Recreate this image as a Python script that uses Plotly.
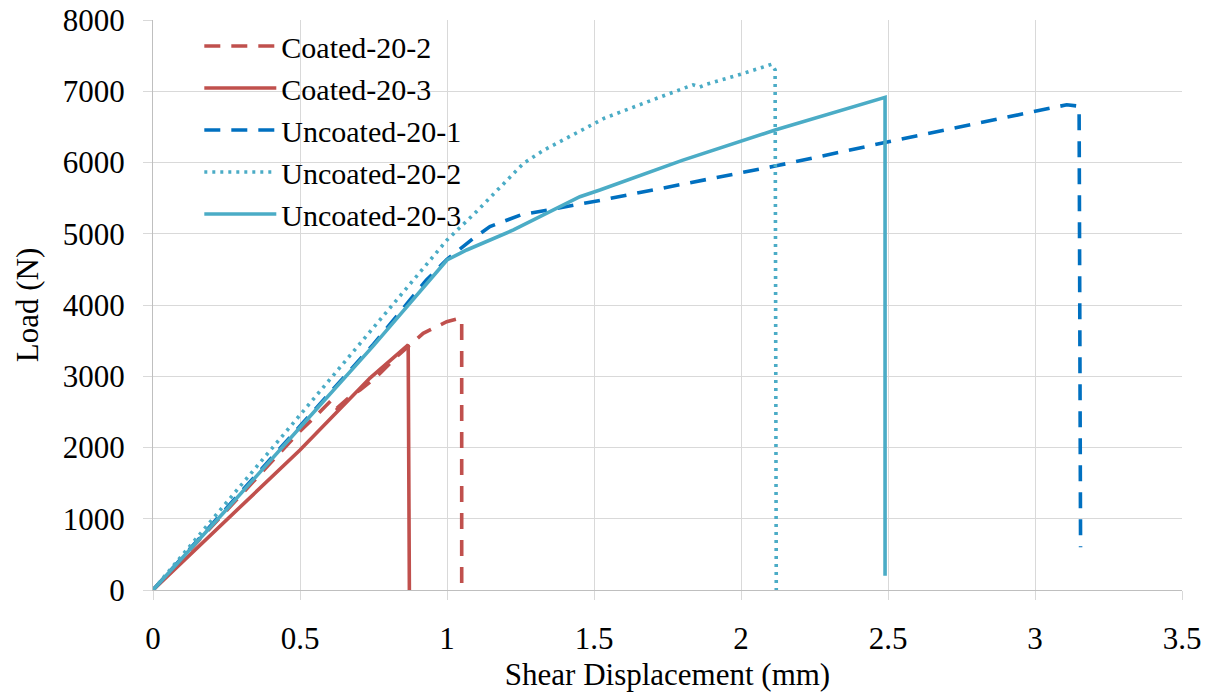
import plotly.graph_objects as go

# ---- data ----
c202_x = [0, 0.25, 0.5, 0.557, 0.608, 0.625, 0.67, 0.704, 0.761, 0.829, 0.919, 0.999, 1.044, 1.05, 1.05]
c202_y = [0, 1120, 2230, 2456, 2667, 2550, 2713, 2807, 2994, 3275, 3602, 3766, 3813, 3800, 0]

c203_x = [0, 0.25, 0.5, 0.738, 0.868, 0.872]
c203_y = [0, 980, 1965, 2975, 3439, 0]

u201_x = [0, 0.25, 0.5, 0.75, 0.93, 1.0, 1.09, 1.146, 1.25, 1.34, 1.44, 1.52, 2.116, 2.53, 3.108, 3.15, 3.155]
u201_y = [0, 1150, 2300, 3450, 4350, 4640, 4936, 5100, 5263, 5333, 5403, 5468, 5950, 6316, 6810, 6790, 600]

u202_x = [0, 0.25, 0.5, 0.84, 1.0, 1.10, 1.26, 1.33, 1.537, 1.7, 1.837, 1.86, 1.884, 2.0, 2.104, 2.116, 2.12]
u202_y = [0, 1230, 2460, 4117, 4912, 5310, 5988, 6175, 6625, 6880, 7090, 7060, 7100, 7240, 7378, 7300, 0]

u203_x = [0, 0.25, 0.5, 0.75, 1.0, 1.067, 1.226, 1.452, 1.52, 1.8, 2.116, 2.3, 2.49, 2.49]
u203_y = [0, 1130, 2280, 3430, 4632, 4772, 5053, 5520, 5614, 6030, 6456, 6680, 6915, 200]

names = ["Coated-20-2", "Coated-20-3", "Uncoated-20-1", "Uncoated-20-2", "Uncoated-20-3"]

RED = "#C0504D"
BLUE = "#0070C0"
LBLUE = "#4BACC6"
FONT = "Liberation Serif, Times New Roman, serif"
LW = 3.6

series = [
    (c202_x, c202_y, RED, "16px,11px"),
    (c203_x, c203_y, RED, "solid"),
    (u201_x, u201_y, BLUE, "16px,11px"),
    (u202_x, u202_y, LBLUE, "3px,5px"),
    (u203_x, u203_y, LBLUE, "solid"),
]

fig = go.Figure()
for (xs, ys, col, dash), nm in zip(series, names):
    fig.add_trace(go.Scatter(x=xs, y=ys, mode="lines", name=nm,
                             line=dict(color=col, width=LW, dash=dash)))

GRID = "#d9d9d9"
fig.update_layout(
    width=1210, height=694,
    margin=dict(l=153, r=28, t=20, b=104, autoexpand=False),
    paper_bgcolor="white", plot_bgcolor="white",
    font=dict(family=FONT, size=31, color="black"),
    showlegend=True,
    legend=dict(x=0.045, y=1.0, xanchor="left", yanchor="top",
                bgcolor="rgba(0,0,0,0)", borderwidth=0,
                font=dict(family=FONT, size=30), itemwidth=72,
                tracegroupgap=0),
)
fig.update_xaxes(range=[0, 3.5], dtick=0.5, showgrid=True, gridcolor=GRID, gridwidth=1,
                 showline=True, linecolor="#bfbfbf", linewidth=1, automargin=False,
                 ticks="outside", ticklen=9, tickcolor=GRID, ticklabelstandoff=12,
                 zeroline=False, tickformat="~g",
                 title=dict(text="Shear Displacement (mm)", font=dict(size=31), standoff=8))
fig.update_yaxes(range=[0, 8000], dtick=1000, showgrid=True, gridcolor=GRID, gridwidth=1,
                 showline=True, linecolor="#bfbfbf", linewidth=1, automargin=False,
                 ticks="outside", ticklen=9, tickcolor=GRID, ticklabelstandoff=12,
                 zeroline=False, tickformat="d",
                 title=dict(text="Load (N)", font=dict(size=31), standoff=14))

fig.write_html("out.html")
